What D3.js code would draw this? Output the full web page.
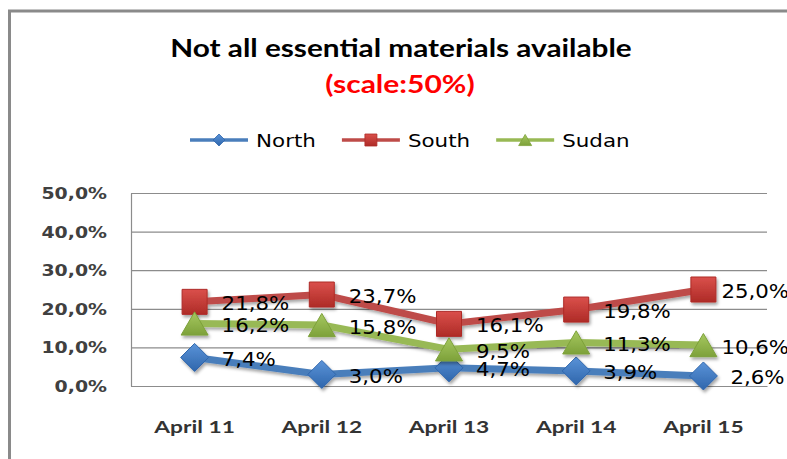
<!DOCTYPE html>
<html>
<head>
<meta charset="utf-8">
<script src="https://cdn.jsdelivr.net/npm/d3@7"></script>
<style>
  html, body { margin: 0; padding: 0; background: #fff; }
  svg { display: block; }
</style>
</head>
<body>
<svg id="chart" width="787" height="459"></svg>
<script>
// ---- data ----
const categories = ["April 11", "April 12", "April 13", "April 14", "April 15"];
const seriesNames = ["North", "South", "Sudan"];
const northValues = [7.4, 3.0, 4.7, 3.9, 2.6];
const southValues = [21.8, 23.7, 16.1, 19.8, 25.0];
const sudanValues = [16.2, 15.8, 9.5, 11.3, 10.6];
const yTickValues = [0, 10, 20, 30, 40, 50];
const titleText = "Not all essential materials available";
const subtitleText = "(scale:50%)";

// ---- styling ----
const styles = {
  North: { line: "#4A7EBB", top: "#5A93D8", bottom: "#2F66AC", shape: "diamond" },
  South: { line: "#BE4B48", top: "#DA504B", bottom: "#AE2B27", shape: "square" },
  Sudan: { line: "#98B954", top: "#A6C860", bottom: "#7DA13A", shape: "triangle" }
};
const seriesValues = { North: northValues, South: southValues, Sudan: sudanValues };

const W = 787, H = 459;
const plot = { left: 131, right: 767, top: 193, bottom: 386 };

const svg = d3.select("#chart");
const defs = svg.append("defs");
const f = defs.append("filter").attr("id", "shadow")
  .attr("x", "-20%").attr("y", "-20%").attr("width", "140%").attr("height", "160%");
f.append("feDropShadow").attr("dx", 1.5).attr("dy", 2.5).attr("stdDeviation", 1.8)
  .attr("flood-color", "#000").attr("flood-opacity", 0.35);

seriesNames.forEach(n => {
  const g = defs.append("linearGradient").attr("id", "grad" + n)
    .attr("x1", 0).attr("y1", 0).attr("x2", 0).attr("y2", 1);
  g.append("stop").attr("offset", "0%").attr("stop-color", styles[n].top);
  g.append("stop").attr("offset", "100%").attr("stop-color", styles[n].bottom);
});

// outer border
svg.append("path")
  .attr("d", `M9.5,${H} L9.5,11 L${W},11`)
  .attr("fill", "none").attr("stroke", "#8a8a8a").attr("stroke-width", 3);

function stretch(sel, k) {
  sel.each(function () {
    const w = this.getComputedTextLength();
    d3.select(this).attr("textLength", w * k).attr("lengthAdjust", "spacingAndGlyphs");
  });
}

// title
svg.append("text").attr("x", 401).attr("y", 57)
  .attr("text-anchor", "middle")
  .style("font-family", "Lato, 'Open Sans', sans-serif").style("font-weight", "bold")
  .style("font-size", "25px").attr("fill", "#000")
  .text(titleText).call(stretch, 1.19);
svg.append("text").attr("x", 400).attr("y", 93)
  .attr("text-anchor", "middle")
  .style("font-family", "Lato, 'Open Sans', sans-serif").style("font-weight", "bold")
  .style("font-size", "24px").attr("fill", "#FF0000")
  .text(subtitleText).call(stretch, 1.25);

// scales
const x = d3.scaleBand().domain(categories).range([plot.left, plot.right]);
const y = d3.scaleLinear().domain([0, 50]).range([plot.bottom, plot.top]);
const cx = c => x(c) + x.bandwidth() / 2;

// gridlines
const grid = svg.append("g").attr("transform", `translate(${plot.left},0)`)
  .call(d3.axisLeft(y).tickValues(yTickValues).tickSize(-(plot.right - plot.left)).tickFormat(""));
grid.select(".domain").remove();
grid.selectAll("line").attr("stroke", "#8c8c8c").attr("stroke-width", 1.2);

// y axis line and labels
const yAxis = svg.append("g").attr("transform", `translate(${plot.left},0)`)
  .call(d3.axisLeft(y).tickValues(yTickValues).tickSize(0).tickPadding(24)
    .tickFormat(v => d3.format(".1f")(v).replace(".", ",") + "%"));
yAxis.select(".domain").attr("stroke", "#8c8c8c").attr("stroke-width", 1.2);
yAxis.selectAll("text")
  .style("font-family", "'DejaVu Sans', Verdana, sans-serif").style("font-weight", "bold")
  .style("font-size", "15px").attr("fill", "#404040").attr("dy", "0.36em")
  .call(stretch, 1.26);

// x axis
const xAxis = svg.append("g").attr("transform", `translate(0,${plot.bottom})`)
  .call(d3.axisBottom(x).tickSize(0).tickPadding(0));
xAxis.select(".domain").attr("stroke", "#8c8c8c").attr("stroke-width", 1.2);
xAxis.selectAll("text")
  .attr("y", 47).attr("dy", 0)
  .style("font-family", "Lato, 'Open Sans', sans-serif").style("font-weight", "bold")
  .style("font-size", "17.5px").attr("fill", "#333")
  .call(stretch, 1.3);

// marker paths
function markerPath(shape, s) {
  if (shape === "square") {
    const h = s / 2;
    return `M${-h},${-h}H${h}V${h}H${-h}Z`;
  }
  if (shape === "diamond") {
    const h = s / 2;
    return `M0,${-h}L${h},0L0,${h}L${-h},0Z`;
  }
  const w = s, hh = s * 0.86;
  return `M0,${-hh / 2}L${w / 2},${hh / 2}L${-w / 2},${hh / 2}Z`;
}
const markerSize = { square: 25, diamond: 28, triangle: 27 };

// series
const line = d3.line().x(d => cx(d.c)).y(d => y(d.v));
seriesNames.forEach(n => {
  const pts = categories.map((c, i) => ({ c, v: seriesValues[n][i] }));
  const g = svg.append("g").attr("filter", "url(#shadow)");
  g.append("path").datum(pts).attr("d", line)
    .attr("fill", "none").attr("stroke", styles[n].line).attr("stroke-width", 7)
    .attr("stroke-linejoin", "round");
  g.selectAll("path.m").data(pts).join("path").attr("class", "m")
    .attr("transform", d => `translate(${cx(d.c)},${y(d.v)})`)
    .attr("d", markerPath(styles[n].shape, markerSize[styles[n].shape]))
    .attr("fill", `url(#grad${n})`).attr("stroke", styles[n].bottom).attr("stroke-width", 1);
});

// data labels
seriesNames.forEach(n => {
  const pts = categories.map((c, i) => ({ c, v: seriesValues[n][i] }));
  svg.append("g").selectAll("text").data(pts).join("text")
    .attr("y", d => y(d.v) + 8.5)
    .style("font-family", "'DejaVu Sans', Verdana, sans-serif")
    .style("font-size", "19px").attr("fill", "#000")
    .text(d => d3.format(".1f")(d.v).replace(".", ",") + "%")
    .call(stretch, 1.12)
    .each(function (d) {
      const w = +this.getAttribute("textLength");
      d3.select(this).attr("x", Math.min(cx(d.c) + 27, 789 - w));
    });
});

// legend
const legend = svg.append("g");
let lx = 190;
const ly = 140;
seriesNames.forEach(n => {
  const g = legend.append("g");
  g.append("line").attr("x1", lx).attr("x2", lx + 58).attr("y1", ly).attr("y2", ly)
    .attr("stroke", styles[n].line).attr("stroke-width", 3.5);
  const ms = { square: 12, diamond: 12, triangle: 13 }[styles[n].shape];
  g.append("path").attr("transform", `translate(${lx + 29},${ly})`)
    .attr("d", markerPath(styles[n].shape, ms))
    .attr("fill", `url(#grad${n})`).attr("stroke", styles[n].bottom).attr("stroke-width", 0.8);
  const t = g.append("text").attr("x", lx + 66).attr("y", ly + 7)
    .style("font-family", "'DejaVu Sans', Verdana, sans-serif")
    .style("font-size", "17px").attr("fill", "#000").text(n)
    .call(stretch, 1.26);
  lx += 66 + (+t.attr("textLength")) + 26;
});
</script>
</body>
</html>
